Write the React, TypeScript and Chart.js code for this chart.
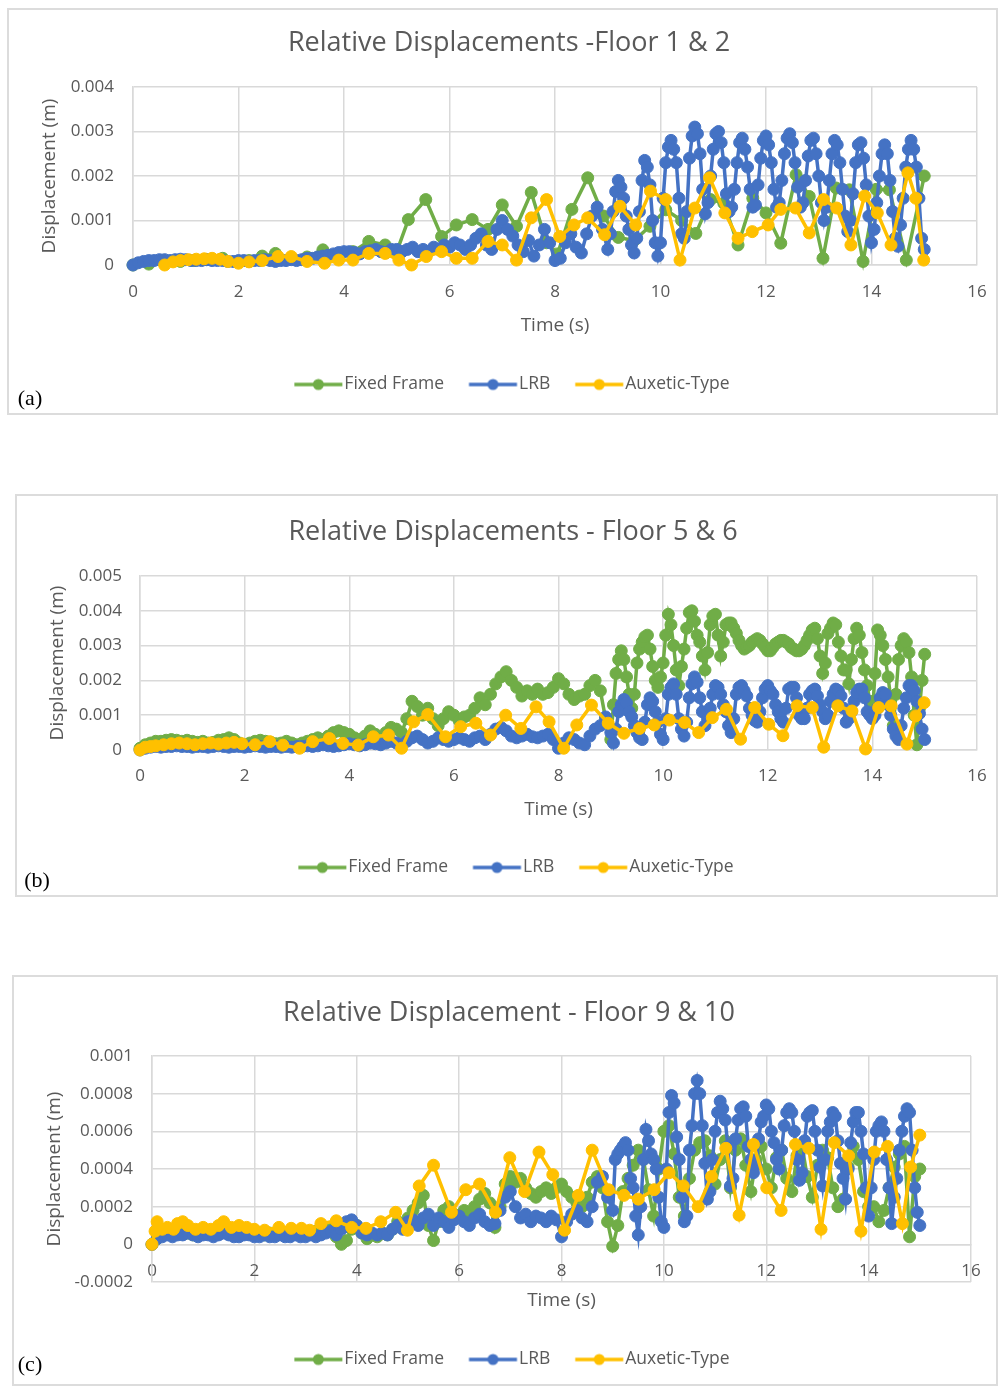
import { useEffect, useRef } from 'react';
import { Chart, registerables } from 'chart.js';

Chart.register(...registerables);

// ---------- look ----------
const FONT_FAMILY = '"Open Sans", "Noto Sans", sans-serif';
const INK = '#595959';
const GRID = '#d9d9d9';
const FRAME = '#dcdcdc';
const COLOR_FIXED = '#70AD47';
const COLOR_LRB = '#4472C4';
const COLOR_AUX = '#FFC000';
const SERIES_LABELS = ['Fixed Frame', 'LRB', 'Auxetic-Type'];

const TITLE_SIZE = 27;
const TICK_SIZE = 17;
const AXIS_TITLE_SIZE = 19;
const LEGEND_SIZE = 17.5;
const MARKER_RADIUS = 6;
const LINE_WIDTH = 3.5;
// legend key geometry
const KEY_LINE = 48;      // visible line length of a legend key
const KEY_TEXT_GAP = 2;   // key end -> label text
const KEY_ITEM_GAP = 25;  // label text end -> next key
const KEY_SHIFT = 3;      // legend row sits slightly right of the title centre
// canvas text sits a little high with a 'middle' baseline
const TEXT_NUDGE = 1.5;

const X_MIN = 0;
const X_MAX = 16;
const X_STEP = 2;

// Displacements are tabulated in millimetres and plotted in metres.
const MM_TO_M = 0.001;

// time bases of the records (s)
const TIME_0_15_BY_01 = Array.from({ length: 151 }, (_, i) => i / 10);     // 0 .. 15 s every 0.1 s
const TIME_0_89_BY_01 = Array.from({ length: 90 }, (_, i) => i / 10);      // 0 .. 8.9 s every 0.1 s
const TIME_9_15_BY_005 = Array.from({ length: 121 }, (_, i) => 9 + i / 20); // 9 .. 15 s every 0.05 s

// ---------- Floor 1 & 2 ----------
const fixedA_t = [0, 0.3, 0.6, 0.9, 1.15, 1.4, 1.7, 1.97, 2.2, 2.45, 2.7, 3.0, 3.3, 3.6, 3.9, 4.17, 4.47, 4.78, 5.0, 5.22, 5.55, 5.85, 6.13, 6.43, 6.73, 7.0, 7.27, 7.55, 7.84, 8.05, 8.32, 8.62, 8.92, 9.2, 9.5, 9.8, 10.1, 10.4, 10.67, 10.95, 11.2, 11.47, 11.75, 12.0, 12.28, 12.57, 12.82, 13.08, 13.33, 13.58, 13.84, 14.09, 14.34, 14.66, 15.0];
const fixedA = [0.0, 0.02, 0.05, 0.08, 0.1, 0.12, 0.15, 0.08, 0.1, 0.2, 0.26, 0.15, 0.18, 0.34, 0.2, 0.3, 0.53, 0.45, 0.3, 1.02, 1.47, 0.64, 0.9, 1.02, 0.8, 1.35, 0.87, 1.63, 0.5, 0.25, 1.25, 1.96, 1.1, 0.62, 0.55, 0.87, 1.24, 1.0, 0.71, 1.47, 1.39, 0.45, 1.5, 1.17, 0.49, 2.03, 1.54, 0.15, 1.73, 1.69, 0.08, 1.7, 1.69, 0.11, 2.0];
const lrbA_early = [
  0, 0.05, 0.08, 0.1, 0.1, 0.12, 0.12, 0.1, 0.12, 0.13,
  0.12, 0.1, 0.1, 0.1, 0.12, 0.1, 0.1, 0.1, 0.08, 0.08,
  0.1, 0.1, 0.08, 0.1, 0.1, 0.12, 0.1, 0.08, 0.1, 0.1,
  0.12, 0.1, 0.12, 0.15, 0.15, 0.18, 0.2, 0.22, 0.25, 0.28,
  0.3, 0.3, 0.28, 0.25, 0.3, 0.32, 0.35, 0.3, 0.28, 0.35,
  0.35, 0.3, 0.35, 0.4, 0.3, 0.35, 0.3, 0.4, 0.35, 0.45,
  0.4, 0.5, 0.45, 0.35, 0.45, 0.6, 0.7, 0.45, 0.35, 0.8,
  1.0, 0.8, 0.65, 0.45, 0.3, 0.55, 0.2, 0.45, 0.8, 0.5,
  0.1, 0.15, 0.5, 0.7, 0.4, 0.27, 0.7, 1.1, 1.3, 0.8,
];
const lrbA_late = [
  0.35, 0.7, 1.2, 1.65, 1.9, 1.75, 1.5, 1.1, 0.8, 0.45,
  0.27, 0.6, 1.2, 1.9, 2.35, 2.2, 1.8, 1.0, 0.5, 0.2,
  0.5, 1.5, 2.3, 2.65, 2.8, 2.6, 2.3, 1.5, 0.7, 0.6,
  1.2, 2.4, 2.9, 3.1, 2.95, 2.5, 1.7, 1.15, 1.4, 2.0,
  2.6, 2.95, 3.0, 2.75, 2.3, 1.6, 1.2, 1.3, 1.7, 2.3,
  2.75, 2.85, 2.6, 2.2, 1.7, 1.3, 1.35, 1.8, 2.4, 2.8,
  2.9, 2.7, 2.3, 1.7, 1.3, 1.4, 1.9, 2.5, 2.85, 2.95,
  2.75, 2.3, 1.75, 1.3, 1.4, 1.9, 2.45, 2.8, 2.85, 2.5,
  2.0, 1.4, 1.0, 1.3, 1.9, 2.5, 2.8, 2.7, 2.3, 1.7,
  1.1, 0.75, 1.0, 1.6, 2.3, 2.7, 2.75, 2.4, 1.8, 1.1,
  0.5, 0.8, 1.4, 2.0, 2.5, 2.7, 2.5, 1.9, 1.2, 0.6,
  0.42, 0.9, 1.5, 2.2, 2.6, 2.8, 2.6, 2.2, 1.5, 0.6,
  0.35,
];
const auxA_t = [0.6, 0.76, 0.9, 1.05, 1.2, 1.35, 1.5, 1.65, 1.8, 2.0, 2.2, 2.45, 2.75, 3.0, 3.3, 3.63, 3.9, 4.17, 4.47, 4.78, 5.04, 5.28, 5.56, 5.85, 6.13, 6.43, 6.73, 7.0, 7.27, 7.55, 7.84, 8.09, 8.36, 8.62, 8.94, 9.23, 9.53, 9.81, 10.1, 10.37, 10.65, 10.93, 11.22, 11.47, 11.74, 12.04, 12.28, 12.56, 12.82, 13.09, 13.34, 13.61, 13.87, 14.11, 14.37, 14.69, 14.84, 14.99];
const auxA = [0.0, 0.07, 0.1, 0.12, 0.13, 0.14, 0.15, 0.13, 0.08, 0.04, 0.07, 0.1, 0.19, 0.19, 0.08, 0.04, 0.11, 0.11, 0.26, 0.26, 0.11, 0.0, 0.19, 0.3, 0.15, 0.15, 0.53, 0.45, 0.11, 1.06, 1.47, 0.64, 0.9, 1.06, 0.68, 1.32, 0.9, 1.66, 1.47, 0.11, 1.28, 1.96, 1.17, 0.6, 0.75, 0.9, 1.25, 1.28, 0.72, 1.47, 1.28, 0.45, 1.55, 1.17, 0.45, 2.07, 1.5, 0.11];

// ---------- Floor 5 & 6 ----------
const fixedB_early = [
  0.05, 0.15, 0.2, 0.25, 0.25, 0.28, 0.3, 0.28, 0.25, 0.28,
  0.25, 0.22, 0.25, 0.2, 0.22, 0.28, 0.3, 0.35, 0.3, 0.2,
  0.15, 0.2, 0.25, 0.28, 0.25, 0.22, 0.18, 0.2, 0.25, 0.2,
  0.15, 0.2, 0.25, 0.3, 0.35, 0.3, 0.4, 0.5, 0.55, 0.5,
  0.45, 0.35, 0.3, 0.4, 0.55, 0.45, 0.35, 0.5, 0.65, 0.6,
  0.5, 0.9, 1.4, 1.25, 1.0, 1.2, 0.9, 0.7, 0.9, 1.1,
  1.0, 0.85, 0.95, 1.0, 1.2, 1.5, 1.3, 1.6, 1.9, 2.1,
  2.25, 2.0, 1.8, 1.55, 1.7, 1.6, 1.75, 1.6, 1.65, 1.8,
  2.05, 1.9, 1.6, 1.45, 1.55, 1.6, 1.85, 2.0, 1.7, 0.9,
];
const fixedB_late = [
  0.3, 1.3, 2.2, 2.6, 2.85, 2.6, 2.1, 1.6, 1.2, 1.6,
  2.5, 2.9, 3.1, 3.25, 3.3, 2.9, 2.4, 2.0, 1.8, 2.1,
  2.5, 3.3, 3.9, 3.6, 3.0, 2.3, 1.85, 2.4, 2.9, 3.5,
  3.95, 4.0, 3.7, 3.3, 3.1, 2.7, 2.3, 2.8, 3.6, 3.85,
  3.9, 3.3, 2.7, 3.1, 3.6, 3.65, 3.65, 3.5, 3.35, 3.15,
  3.0, 2.9, 2.95, 3.0, 3.1, 3.15, 3.2, 3.15, 3.05, 2.95,
  2.85, 2.85, 2.95, 3.05, 3.1, 3.15, 3.15, 3.1, 3.05, 2.95,
  2.9, 2.85, 2.85, 2.9, 3.0, 3.15, 3.3, 3.45, 3.5, 3.2,
  2.7, 2.2, 2.5, 3.35, 3.5, 3.65, 3.6, 3.1, 2.7, 2.3,
  2.3, 1.9, 2.6, 3.2, 3.5, 3.3, 2.8, 2.3, 1.85, 1.4,
  1.0, 2.2, 3.45, 3.3, 3.0, 2.6, 2.1, 1.5, 0.7, 1.6,
  2.6, 3.0, 3.2, 3.1, 2.8, 2.1, 1.0, 0.15, 1.2, 2.0,
  2.75,
];
const lrbB_early = [
  0.0, 0.05, 0.08, 0.1, 0.08, 0.1, 0.1, 0.12, 0.1, 0.1,
  0.08, 0.1, 0.1, 0.08, 0.1, 0.12, 0.1, 0.08, 0.1, 0.1,
  0.08, 0.1, 0.12, 0.1, 0.08, 0.1, 0.1, 0.08, 0.1, 0.08,
  0.1, 0.1, 0.12, 0.1, 0.12, 0.15, 0.12, 0.1, 0.12, 0.15,
  0.18, 0.15, 0.12, 0.15, 0.2, 0.18, 0.15, 0.2, 0.25, 0.2,
  0.15, 0.25, 0.35, 0.4, 0.3, 0.2, 0.25, 0.35, 0.3, 0.25,
  0.3, 0.35, 0.3, 0.25, 0.35, 0.4, 0.3, 0.45, 0.6, 0.65,
  0.55, 0.4, 0.35, 0.4, 0.45, 0.38, 0.35, 0.4, 0.45, 0.3,
  0.05, 0.2, 0.35, 0.3, 0.2, 0.15, 0.4, 0.6, 0.7, 0.95,
];
const lrbB_late = [
  0.5, 0.2, 0.6, 1.1, 1.3, 1.45, 1.35, 1.1, 0.95, 0.7,
  0.5, 0.35, 0.3, 0.8, 1.3, 1.5, 1.4, 1.1, 0.8, 0.45,
  0.3, 0.9, 1.6, 1.8, 1.9, 1.6, 0.9, 0.6, 0.4, 0.8,
  1.5, 1.9, 2.1, 1.95, 1.5, 1.1, 0.7, 0.9, 1.2, 1.6,
  1.85, 1.8, 1.6, 1.3, 1.1, 0.7, 0.5, 0.9, 1.6, 1.8,
  1.85, 1.7, 1.55, 1.2, 1.0, 0.85, 0.8, 1.1, 1.5, 1.75,
  1.85, 1.7, 1.6, 1.3, 1.1, 0.9, 0.8, 1.2, 1.75, 1.8,
  1.8, 1.5, 1.0, 0.9, 0.9, 1.2, 1.6, 1.7, 1.75, 1.55,
  1.3, 1.1, 0.9, 1.0, 1.4, 1.6, 1.75, 1.7, 1.55, 1.2,
  0.8, 0.9, 1.1, 1.4, 1.65, 1.75, 1.75, 1.5, 1.1, 1.0,
  0.9, 1.0, 1.2, 1.5, 1.65, 1.6, 1.3, 1.0, 0.6, 0.4,
  0.3, 0.7, 1.2, 1.5, 1.85, 1.85, 1.7, 1.4, 1.05, 0.6,
  0.3,
];
const auxB_t = [0, 0.1, 0.2, 0.3, 0.45, 0.6, 0.75, 0.9, 1.05, 1.2, 1.35, 1.5, 1.65, 1.8, 1.95, 2.2, 2.48, 2.73, 3.05, 3.3, 3.62, 3.88, 4.17, 4.46, 4.75, 5.0, 5.23, 5.5, 5.84, 6.13, 6.42, 6.7, 6.99, 7.28, 7.57, 7.82, 8.1, 8.35, 8.63, 8.95, 9.25, 9.55, 9.83, 10.12, 10.41, 10.68, 10.94, 11.21, 11.48, 11.75, 12.02, 12.29, 12.56, 12.85, 13.07, 13.34, 13.61, 13.87, 14.12, 14.36, 14.66, 14.83, 14.99];
const auxB = [0.0, 0.08, 0.1, 0.12, 0.15, 0.18, 0.2, 0.18, 0.15, 0.18, 0.2, 0.17, 0.2, 0.22, 0.18, 0.15, 0.24, 0.14, 0.05, 0.24, 0.33, 0.19, 0.14, 0.38, 0.43, 0.05, 0.81, 1.02, 0.38, 0.67, 0.77, 0.43, 1.0, 0.62, 1.24, 0.81, 0.05, 0.72, 1.29, 0.77, 0.48, 0.62, 0.72, 0.86, 0.79, 0.5, 0.93, 1.17, 0.31, 1.22, 0.74, 0.41, 1.27, 1.22, 0.08, 1.27, 1.12, 0.03, 1.22, 1.27, 0.17, 0.98, 1.36];

// ---------- Floor 9 & 10 ----------
const fixedC = [
  0.0, 0.03, 0.05, 0.06, 0.05, 0.06, 0.07, 0.06, 0.05, 0.06, 0.07,
  0.06, 0.05, 0.06, 0.07, 0.06, 0.05, 0.06, 0.07, 0.06, 0.05,
  0.06, 0.05, 0.06, 0.05, 0.06, 0.06, 0.05, 0.06, 0.05, 0.05,
  0.06, 0.07, 0.06, 0.07, 0.08, 0.04, 0.0, 0.02, 0.08, 0.1,
  0.06, 0.03, 0.05, 0.04, 0.06, 0.05, 0.08, 0.12, 0.1, 0.14,
  0.18, 0.22, 0.26, 0.1, 0.02, 0.12, 0.18, 0.2, 0.16, 0.15,
  0.18, 0.16, 0.2, 0.24, 0.27, 0.22, 0.09, 0.2, 0.32, 0.36,
  0.33, 0.35, 0.3, 0.27, 0.25, 0.28, 0.3, 0.27, 0.3, 0.32,
  0.28, 0.25, 0.22, 0.2, 0.25, 0.33, 0.36, 0.3, 0.12, -0.01,
  0.1, 0.28, 0.35, 0.42, 0.5, 0.45, 0.29, 0.15, 0.4, 0.6,
  0.63, 0.48, 0.25, 0.15, 0.35, 0.5, 0.54, 0.55, 0.47, 0.32,
  0.45, 0.55, 0.3, 0.5, 0.56, 0.42, 0.28, 0.45, 0.52, 0.4,
  0.3, 0.46, 0.5, 0.35, 0.28, 0.47, 0.52, 0.36, 0.25, 0.42,
  0.5, 0.46, 0.3, 0.2, 0.24, 0.41, 0.52, 0.45, 0.28, 0.2,
  0.2, 0.12, 0.18, 0.3, 0.41, 0.48, 0.52, 0.04, 0.36, 0.4,
];
const lrbC_early = [
  0.0, 0.03, 0.04, 0.05, 0.04, 0.05, 0.05, 0.06, 0.05, 0.04,
  0.05, 0.05, 0.04, 0.05, 0.06, 0.05, 0.04, 0.04, 0.05, 0.05,
  0.04, 0.04, 0.05, 0.04, 0.04, 0.05, 0.04, 0.04, 0.05, 0.04,
  0.04, 0.05, 0.04, 0.05, 0.06, 0.07, 0.05, 0.08, 0.12, 0.13,
  0.1, 0.06, 0.05, 0.06, 0.05, 0.06, 0.05, 0.08, 0.1, 0.08,
  0.12, 0.13, 0.1, 0.14, 0.16, 0.1, 0.14, 0.12, 0.09, 0.13,
  0.15, 0.12, 0.1, 0.14, 0.16, 0.12, 0.1, 0.11, 0.18, 0.25,
  0.28, 0.2, 0.14, 0.16, 0.12, 0.15, 0.14, 0.12, 0.15, 0.13,
  0.04, 0.12, 0.16, 0.18, 0.14, 0.12, 0.2, 0.33, 0.36, 0.25,
];
const lrbC_late = [
  0.18, 0.45, 0.48, 0.5, 0.52, 0.54, 0.5, 0.35, 0.3, 0.15,
  0.05, 0.2, 0.45, 0.61, 0.55, 0.48, 0.45, 0.4, 0.25, 0.12,
  0.09, 0.4, 0.7, 0.79, 0.75, 0.57, 0.45, 0.25, 0.12, 0.15,
  0.5, 0.63, 0.8, 0.87, 0.8, 0.63, 0.43, 0.24, 0.28, 0.45,
  0.6, 0.7, 0.76, 0.72, 0.66, 0.52, 0.31, 0.35, 0.56, 0.66,
  0.72, 0.73, 0.68, 0.52, 0.45, 0.38, 0.42, 0.56, 0.65, 0.68,
  0.74, 0.72, 0.6, 0.54, 0.45, 0.4, 0.5, 0.63, 0.7, 0.72,
  0.7, 0.6, 0.45, 0.34, 0.38, 0.55, 0.68, 0.7, 0.71, 0.6,
  0.5, 0.41, 0.31, 0.45, 0.6, 0.65, 0.7, 0.68, 0.55, 0.43,
  0.35, 0.24, 0.4, 0.54, 0.65, 0.7, 0.7, 0.6, 0.48, 0.3,
  0.15, 0.3, 0.45, 0.6, 0.63, 0.65, 0.6, 0.45, 0.3, 0.11,
  0.25, 0.35, 0.5, 0.6, 0.68, 0.72, 0.7, 0.5, 0.3, 0.17,
  0.1,
];
const auxC_t = [0, 0.06, 0.1, 0.2, 0.3, 0.42, 0.5, 0.6, 0.7, 0.85, 1.0, 1.15, 1.3, 1.4, 1.55, 1.7, 1.85, 2.0, 2.2, 2.48, 2.72, 2.92, 3.08, 3.3, 3.6, 3.9, 4.18, 4.47, 4.76, 4.99, 5.22, 5.5, 5.85, 6.13, 6.4, 6.71, 6.99, 7.28, 7.56, 7.83, 8.06, 8.33, 8.6, 8.92, 9.22, 9.5, 9.81, 10.1, 10.38, 10.67, 10.93, 11.21, 11.47, 11.75, 12.01, 12.29, 12.57, 12.83, 13.07, 13.33, 13.61, 13.85, 14.11, 14.37, 14.66, 14.82, 15.0];
const auxC = [0.0, 0.07, 0.12, 0.08, 0.09, 0.08, 0.11, 0.12, 0.1, 0.08, 0.09, 0.08, 0.1, 0.12, 0.09, 0.1, 0.09, 0.08, 0.075, 0.09, 0.085, 0.085, 0.075, 0.11, 0.125, 0.09, 0.085, 0.12, 0.17, 0.075, 0.31, 0.42, 0.17, 0.29, 0.32, 0.17, 0.46, 0.28, 0.49, 0.37, 0.075, 0.26, 0.5, 0.29, 0.26, 0.24, 0.29, 0.38, 0.31, 0.2, 0.36, 0.51, 0.155, 0.53, 0.3, 0.18, 0.53, 0.51, 0.08, 0.54, 0.47, 0.07, 0.49, 0.52, 0.11, 0.41, 0.58];

// ---------- helpers ----------
type Pt = { x: number; y: number };
const onTimes = (ts: number[], vals: number[]): Pt[] => ts.map((t, i) => ({ x: t, y: vals[i] * MM_TO_M }));
const twoRate = (early: number[], late: number[]): Pt[] => [
  ...onTimes(TIME_0_89_BY_01, early),
  ...onTimes(TIME_9_15_BY_005, late),
];

type Rect = { left: number; top: number; width: number; height: number };

type PanelSpec = {
  key: string;
  tag: string;
  tagCenter: { x: number; y: number };
  title: string;
  frame: Rect;
  yMin: number;
  yMax: number;
  yStep: number;
  xAxisAtZero: boolean;
  // page-coordinate layout targets
  plot: { left: number; right: number; top: number; bottom: number };
  zeroY?: number;
  titleCenter: { x: number; y: number };
  xTickY: number;
  yTickRight: number;
  xTitleY: number;
  yTitleX: number;
  legendY: number;
  fixed: Pt[];
  lrb: Pt[];
  aux: Pt[];
};

const PANELS: PanelSpec[] = [
  {
    key: 'a', tag: '(a)', tagCenter: { x: 30, y: 398 },
    title: 'Relative Displacements -Floor 1 & 2',
    frame: { left: 7, top: 8, width: 991, height: 407 },
    yMin: 0, yMax: 0.004, yStep: 0.001, xAxisAtZero: false,
    plot: { left: 133, right: 977, top: 87, bottom: 265 },
    titleCenter: { x: 509, y: 42 }, xTickY: 291, yTickRight: 114,
    xTitleY: 324, yTitleX: 50, legendY: 383,
    fixed: onTimes(fixedA_t, fixedA), lrb: twoRate(lrbA_early, lrbA_late), aux: onTimes(auxA_t, auxA),
  },
  {
    key: 'b', tag: '(b)', tagCenter: { x: 37, y: 880 },
    title: 'Relative Displacements - Floor 5 & 6',
    frame: { left: 15, top: 494, width: 983, height: 403 },
    yMin: 0, yMax: 0.005, yStep: 0.001, xAxisAtZero: false,
    plot: { left: 140, right: 977, top: 576, bottom: 750 },
    titleCenter: { x: 513, y: 531 }, xTickY: 775, yTickRight: 122,
    xTitleY: 808, yTitleX: 58, legendY: 866,
    fixed: twoRate(fixedB_early, fixedB_late), lrb: twoRate(lrbB_early, lrbB_late), aux: onTimes(auxB_t, auxB),
  },
  {
    key: 'c', tag: '(c)', tagCenter: { x: 30, y: 1364 },
    title: 'Relative Displacement - Floor 9 & 10',
    frame: { left: 12, top: 975, width: 986, height: 411 },
    yMin: -0.0002, yMax: 0.001, yStep: 0.0002, xAxisAtZero: true,
    plot: { left: 152, right: 971, top: 1056, bottom: 1282 }, zeroY: 1245,
    titleCenter: { x: 509, y: 1012 }, xTickY: 1270, yTickRight: 133,
    xTitleY: 1300, yTitleX: 55, legendY: 1358,
    fixed: onTimes(TIME_0_15_BY_01, fixedC), lrb: twoRate(lrbC_early, lrbC_late), aux: onTimes(auxC_t, auxC),
  },
];

const FRAME_W = 2;
const canvasRect = (f: Rect): Rect => ({
  left: f.left + FRAME_W, top: f.top + FRAME_W,
  width: f.width - 2 * FRAME_W, height: f.height - 2 * FRAME_W,
});

// Legend key box width (Chart.js pointStyleWidth) so the visible key starts
// KEY_SHIFT*2 px right of the item origin and ends KEY_TEXT_GAP px before the text.
const KEY_BOX_W = 2 * KEY_SHIFT + KEY_TEXT_GAP + KEY_LINE - LEGEND_SIZE / 2;
const KEY_VISIBLE_START = 2 * KEY_SHIFT;
const KEY_IMG_W = 2 * Math.ceil(Math.max(KEY_BOX_W / 2 - KEY_VISIBLE_START, KEY_VISIBLE_START + KEY_LINE - KEY_BOX_W / 2)) + 2;
const KEY_IMG_H = 14;
const LEGEND_PADDING = KEY_ITEM_GAP - KEY_VISIBLE_START;

// legend key: a short line with a round marker in the middle
const keyCache: Record<string, HTMLCanvasElement> = {};
function legendKey(color: string): HTMLCanvasElement {
  if (keyCache[color]) return keyCache[color];
  const c = document.createElement('canvas');
  c.width = KEY_IMG_W;
  c.height = KEY_IMG_H;
  const g = c.getContext('2d')!;
  const x0 = KEY_VISIBLE_START - (KEY_BOX_W / 2 - KEY_IMG_W / 2);
  const yMid = KEY_IMG_H / 2;
  g.strokeStyle = color;
  g.lineWidth = 3.5;
  g.beginPath();
  g.moveTo(x0, yMid);
  g.lineTo(x0 + KEY_LINE, yMid);
  g.stroke();
  g.fillStyle = color;
  g.beginPath();
  g.arc(x0 + KEY_LINE / 2, yMid, 5.5, 0, Math.PI * 2);
  g.fill();
  keyCache[color] = c;
  return c;
}

const fmtTick = (v: number | string) => {
  const n = Number(v);
  if (Math.abs(n) < 1e-12) return '0';
  return String(parseFloat(n.toFixed(6)));
};

const lh = (size: number) => size * 1.2;

function buildConfig(p: PanelSpec): any {
  const cv = canvasRect(p.frame);
  const area = {
    left: p.plot.left - cv.left, right: p.plot.right - cv.left,
    top: p.plot.top - cv.top, bottom: p.plot.bottom - cv.top,
  };
  const padRight = cv.width - area.right;
  const padLeft = 2 * (p.titleCenter.x - cv.left) - area.right;
  const yAxisWidth = area.left - padLeft;
  const yTitlePad = p.yTitleX - cv.left - padLeft - lh(AXIS_TITLE_SIZE) / 2;
  const yTickPad = area.left - (p.yTickRight - cv.left);

  const titleMid = p.titleCenter.y + TEXT_NUDGE - cv.top;
  const titlePadTop = titleMid - lh(TITLE_SIZE) / 2;
  const titlePadBottom = area.top - titleMid - lh(TITLE_SIZE) / 2;

  const axisLineY = (p.zeroY ?? p.plot.bottom) - cv.top;
  const xTickLen = p.xTickY + TEXT_NUDGE - cv.top - axisLineY - lh(TICK_SIZE) / 2;

  const legendMid = p.legendY + TEXT_NUDGE - cv.top;
  const padBottom = cv.height - legendMid - 10 - LEGEND_SIZE / 2;
  const legendCore = LEGEND_SIZE + LEGEND_PADDING + 10;
  const xTitleMid = p.xTitleY + TEXT_NUDGE - cv.top;

  let legendTitleH = 0;
  let xAxisHeight: number;
  let xTitlePad: number;
  if (p.xAxisAtZero) {
    legendTitleH = cv.height - padBottom - legendCore - area.bottom;
    xAxisHeight = 80;
    xTitlePad = axisLineY + xAxisHeight - xTitleMid - lh(AXIS_TITLE_SIZE) / 2;
  } else {
    const legendTop = cv.height - padBottom - legendCore;
    xAxisHeight = legendTop - area.bottom;
    xTitlePad = legendTop - xTitleMid - lh(AXIS_TITLE_SIZE) / 2;
  }

  const series = (label: string, color: string, data: Pt[], order: number) => ({
    label, data, order,
    borderColor: color, backgroundColor: color,
    pointBackgroundColor: color, pointBorderColor: color,
    borderWidth: LINE_WIDTH, pointRadius: MARKER_RADIUS, pointBorderWidth: 1, pointHoverRadius: MARKER_RADIUS,
    tension: 0, clip: false,
  });

  const tickFont = { family: FONT_FAMILY, size: TICK_SIZE };
  const axisTitleFont = { family: FONT_FAMILY, size: AXIS_TITLE_SIZE };

  return {
    type: 'line',
    data: {
      datasets: [
        series(SERIES_LABELS[0], COLOR_FIXED, p.fixed, 3),
        series(SERIES_LABELS[1], COLOR_LRB, p.lrb, 2),
        series(SERIES_LABELS[2], COLOR_AUX, p.aux, 1),
      ],
    },
    options: {
      responsive: false,
      animation: false,
      devicePixelRatio: 1,
      events: [],
      layout: { padding: { left: padLeft, right: padRight, top: 0, bottom: padBottom } },
      plugins: {
        tooltip: { enabled: false },
        title: {
          display: true, text: p.title, color: INK,
          font: { family: FONT_FAMILY, size: TITLE_SIZE, weight: 'normal' },
          padding: { top: titlePadTop, bottom: titlePadBottom },
        },
        legend: {
          display: true, position: 'bottom',
          title: legendTitleH > 0
            ? { display: true, text: ' ', font: { size: 10 }, padding: { top: legendTitleH - 12, bottom: 0 } }
            : { display: false },
          labels: {
            usePointStyle: true,
            pointStyleWidth: KEY_BOX_W,
            padding: LEGEND_PADDING,
            color: INK,
            font: { family: FONT_FAMILY, size: LEGEND_SIZE },
            generateLabels: (chart: any) =>
              chart.data.datasets.map((ds: any, i: number) => ({
                text: ds.label,
                fillStyle: ds.borderColor,
                strokeStyle: ds.borderColor,
                lineWidth: 0,
                pointStyle: legendKey(ds.borderColor),
                hidden: false,
                datasetIndex: i,
                fontColor: INK,
              })),
          },
        },
      },
      scales: {
        x: {
          type: 'linear',
          position: p.xAxisAtZero ? { y: 0 } : 'bottom',
          min: X_MIN, max: X_MAX,
          ticks: { stepSize: X_STEP, padding: 0, color: INK, font: tickFont, maxRotation: 0 },
          grid: { color: GRID, lineWidth: 1.5, drawTicks: true, tickLength: xTickLen, tickColor: 'rgba(0,0,0,0)' },
          border: { color: GRID, width: 1.5 },
          title: { display: true, text: 'Time (s)', color: INK, font: axisTitleFont, padding: { top: 0, bottom: xTitlePad } },
          afterFit: (s: any) => { s.height = xAxisHeight; },
        },
        y: {
          type: 'linear',
          position: 'left',
          min: p.yMin, max: p.yMax,
          ticks: { stepSize: p.yStep, padding: yTickPad, color: INK, font: tickFont, callback: fmtTick },
          grid: { color: GRID, lineWidth: 1.5, drawTicks: false },
          border: { color: GRID, width: 1.5 },
          title: { display: true, text: 'Displacement (m)', color: INK, font: axisTitleFont, padding: { top: yTitlePad, bottom: 0 } },
          afterFit: (s: any) => { s.width = yAxisWidth; },
        },
      },
    },
  };
}

function Panel({ spec }: { spec: PanelSpec }) {
  const ref = useRef<HTMLCanvasElement>(null);
  const cv = canvasRect(spec.frame);
  useEffect(() => {
    if (!ref.current) return;
    const chart = new Chart(ref.current, buildConfig(spec));
    return () => chart.destroy();
  }, [spec]);
  return (
    <>
      <div
        style={{
          position: 'absolute', left: spec.frame.left, top: spec.frame.top,
          width: spec.frame.width, height: spec.frame.height,
          boxSizing: 'border-box', border: `${FRAME_W}px solid ${FRAME}`, background: '#fff',
        }}
      />
      <canvas
        ref={ref}
        width={cv.width}
        height={cv.height}
        style={{ position: 'absolute', left: cv.left, top: cv.top, width: cv.width, height: cv.height }}
      />
      <div
        style={{
          position: 'absolute', left: spec.tagCenter.x, top: spec.tagCenter.y,
          transform: 'translate(-50%, -50%)', fontFamily: '"Liberation Serif", "DejaVu Serif", serif',
          fontSize: 22, color: '#000', lineHeight: 1, whiteSpace: 'nowrap',
        }}
      >
        {spec.tag}
      </div>
    </>
  );
}

export default function App() {
  return (
    <div style={{ position: 'absolute', left: 0, top: 0, width: 999, height: 1387, background: '#fff', overflow: 'hidden' }}>
      {PANELS.map((p) => (
        <Panel key={p.key} spec={p} />
      ))}
    </div>
  );
}
